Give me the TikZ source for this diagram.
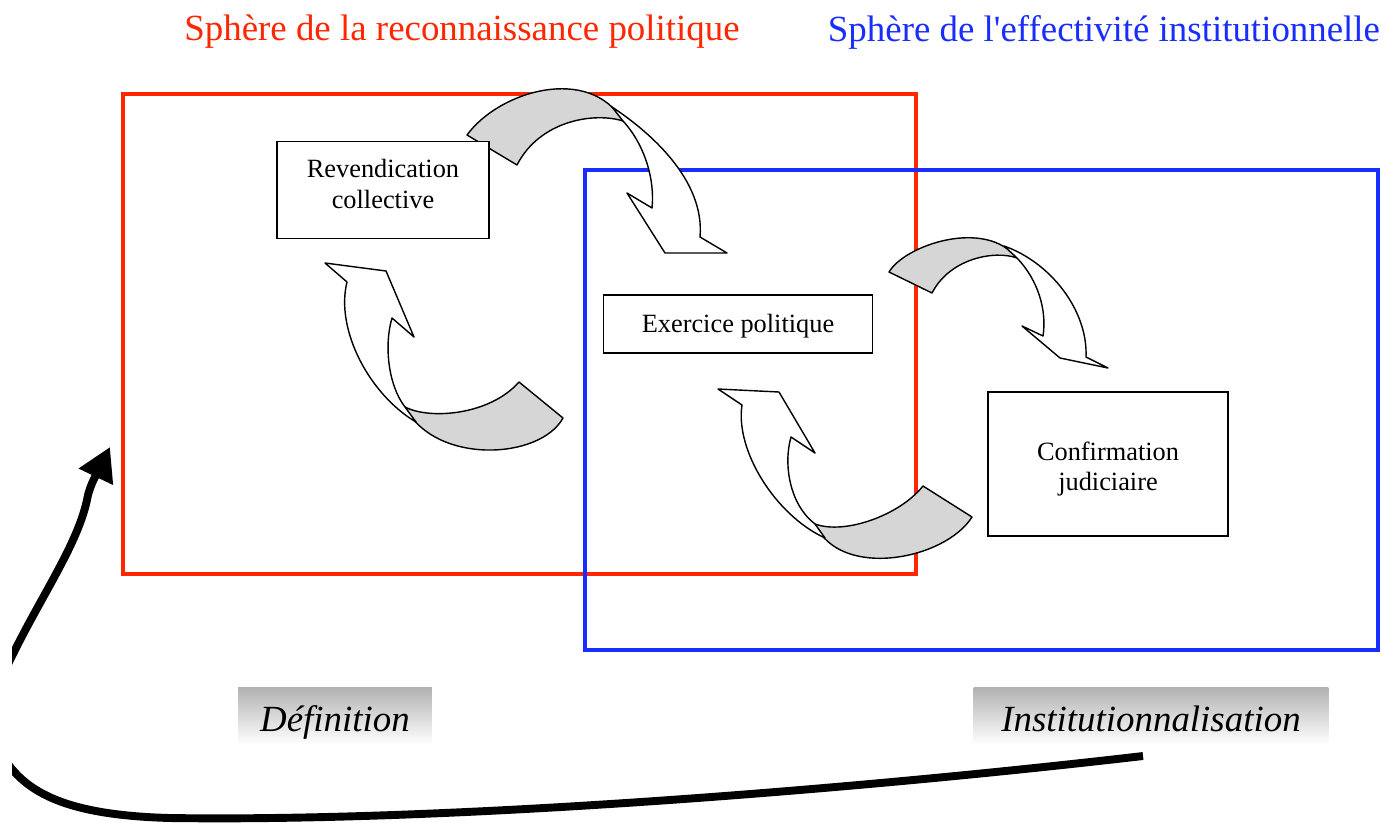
\documentclass[tikz,border=0pt]{standalone}
\usepackage{fontspec}
\setmainfont{Liberation Serif}
\usetikzlibrary{arrows.meta}
\definecolor{sphred}{RGB}{255,38,0}
\definecolor{sphblue}{RGB}{25,45,255}
\definecolor{ribgray}{RGB}{214,214,214}
\definecolor{labgray}{RGB}{178,178,178}
\newcommand\droitquote{\XeTeXglyph\XeTeXcharglyph"0027\relax}
\tikzset{
  frame/.style={line width=2pt},
  stepbox/.style={draw, line width=0.8pt, fill=white},
  boxtext/.style={align=center, font=\fontsize{15}{17.5}\selectfont},
  ribbon/.style={draw, fill=ribgray, line width=0.8pt, line join=round},
  front/.style={draw, fill=white, line width=0.8pt, line join=round},
  phase/.style={top color=labgray, bottom color=white, inner sep=0pt, text height=22pt, text depth=4.5pt, font=\fontsize{21}{25}\selectfont\itshape},
  sphere/.style={font=\fontsize{21}{25}\selectfont}
}

\begin{document}
\begin{tikzpicture}[x=0.02cm, y=-0.02cm]
		\useasboundingbox (0,0) rectangle (1388,822);
		\draw[frame, sphred] (123,94) rectangle (916,574);
		\draw[frame, sphblue] (585,170) rectangle (1378,650);
		\node[sphere, text=sphred] (titrerouge) at (462,32) {Sphère de la reconnaissance politique};
		\node[sphere, text=sphblue] (titrebleu) at (1104,32) {Sphère de l\droitquote effectivité institutionnelle};
		\draw[ribbon] (467,135) .. controls (500,90) and (590,65) .. (623,121) .. controls (595,112) and (540,120) .. (517,165) -- cycle;
		\draw[front] (612,107) .. controls (650,132) and (705,180) .. (700,237) -- (727,253) -- (665,253) -- (627,193) -- (652,208) .. controls (655,180) and (645,145) .. (623,121) -- cycle;
		\draw[ribbon] (563,418) .. controls (540,460) and (435,465) .. (405,407) .. controls (430,420) and (490,415) .. (519,382) -- cycle;
		\draw[front] (416,422) .. controls (370,395) and (335,330) .. (347,282) -- (325,263) -- (386,271) -- (414,337) -- (392,318) .. controls (384,345) and (388,385) .. (405,407) -- cycle;
		\draw[ribbon] (889,272) .. controls (905,245) and (985,218) .. (1017,258) .. controls (995,250) and (950,258) .. (932,293) -- cycle;
		\draw[front] (1004,246) .. controls (1050,262) and (1088,310) .. (1086,357) -- (1108,368) -- (1060,358) -- (1022,326) -- (1043,336) .. controls (1047,310) and (1038,280) .. (1017,258) -- cycle;
		\draw[ribbon] (972,517) .. controls (945,560) and (840,580) .. (815,524) .. controls (845,535) and (900,515) .. (923,486) -- cycle;
		\draw[front] (825,538) .. controls (775,515) and (735,450) .. (742,405) -- (718,389) -- (779,392) -- (815,453) -- (791,437) .. controls (783,465) and (790,505) .. (815,524) -- cycle;
		\node[stepbox, minimum width=4.24cm, minimum height=1.94cm, label={[boxtext, yshift=3.4pt]center:Revendication\\collective}] (revendication) at (383,190) {};
		\node[stepbox, minimum width=5.38cm, minimum height=1.16cm, label={[boxtext, yshift=-1pt]center:Exercice politique}] (exercice) at (738,324) {};
		\node[stepbox, minimum width=4.8cm, minimum height=2.88cm, label={[boxtext, yshift=-2.8pt]center:Confirmation\\judiciaire}] (confirmation) at (1108,464) {};
		\node[phase, minimum width=3.88cm, minimum height=1.14cm] (definition) at (335,716) {Définition};
		\node[phase, minimum width=7.1cm, minimum height=1.14cm] (institution) at (1151,716) {Institutionnalisation};
		\begin{scope}
			\clip (12,0) rectangle (1388,822);
			\coordinate (depart) at (1143,756);
			\coordinate (pointe) at (110,447);
			\draw[line width=4.5pt, -{Triangle[length=0.66cm,width=0.72cm]}] (depart) .. controls (850,790) and (450,822) .. (170,818) .. controls (60,815) and (15,790) .. (-5,740) .. controls (-15,710) and (0,680) .. (15,650) .. controls (45,590) and (80,540) .. (88,495) .. controls (92,480) and (100,468) .. (pointe);
		\end{scope}
	\end{tikzpicture}
\end{document}
